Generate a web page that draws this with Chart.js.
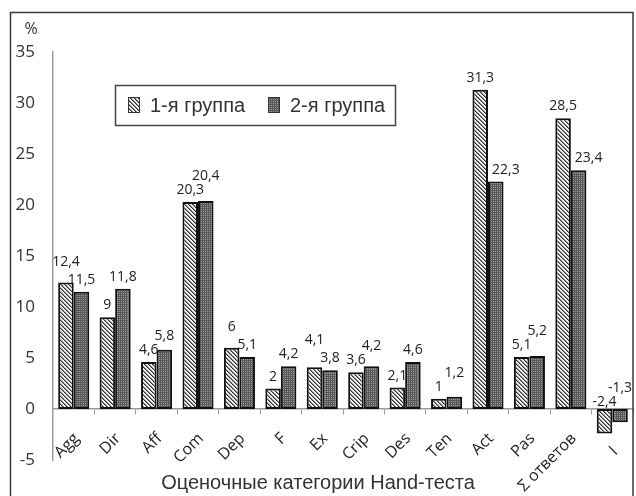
<!DOCTYPE html>
<html>
<head>
<meta charset="utf-8">
<script src="https://cdn.jsdelivr.net/npm/chart.js@4/dist/chart.umd.min.js"></script>
<style>
html,body{margin:0;padding:0;background:#fff;}
canvas{display:block;}
</style>
</head>
<body>
<canvas id="c" width="636" height="496"></canvas>
<script>
const categories = ['Agg','Dir','Aff','Com','Dep','F','Ex','Crip','Des','Ten','Act','Pas','Σ ответов','I'];
const group1 = [12.4, 9, 4.6, 20.3, 6, 2, 4.1, 3.6, 2.1, 1, 31.3, 5.1, 28.5, -2.4];
const group2 = [11.5, 11.8, 5.8, 20.4, 5.1, 4.2, 3.8, 4.2, 4.6, 1.2, 22.3, 5.2, 23.4, -1.3];
const seriesNames = ['1-я группа', '2-я группа'];
const yMin = -5, yMax = 35, yStep = 5;
const yUnit = '%';
const xTitle = 'Оценочные категории Hand-теста';

function hatchPattern() {
  const t = document.createElement('canvas'); t.width = 4; t.height = 4;
  const g = t.getContext('2d');
  g.fillStyle = '#f2f2f2'; g.fillRect(0,0,4,4);
  for (let y = 0; y < 4; y++) for (let x = 0; x < 4; x++) {
    const d = ((x - y) % 4 + 4) % 4;
    if (d === 0) { g.fillStyle = '#2e2e2e'; g.fillRect(x,y,1,1); }
    else if (d === 1) { g.fillStyle = '#8a8a8a'; g.fillRect(x,y,1,1); }
  }
  return document.getElementById('c').getContext('2d').createPattern(t, 'repeat');
}
function dotPattern() {
  const t = document.createElement('canvas'); t.width = 4; t.height = 4;
  const g = t.getContext('2d');
  g.fillStyle = '#585858'; g.fillRect(0,0,4,4);
  g.fillStyle = '#9c9c9c';
  [[1,1],[3,3],[1,3],[3,1]].forEach(p => g.fillRect(p[0],p[1],1,1));
  return document.getElementById('c').getContext('2d').createPattern(t, 'repeat');
}
const fills = [hatchPattern(), dotPattern()];
const fmt = v => String(v).replace('.', ',');

const decor = {
  id: 'decor',
  afterDraw(chart) {
    const ctx = chart.ctx;
    const xs = chart.scales.x, ys = chart.scales.y;
    const zero = ys.getPixelForValue(0);
    ctx.save();
    // outer frame
    ctx.strokeStyle = '#3a3a3a'; ctx.lineWidth = 1.5;
    ctx.strokeRect(10.5, 12.5, 622.5, 500);
    // unit label
    ctx.fillStyle = '#333';
    ctx.font = '16px "Open Sans"';
    ctx.textAlign = 'center'; ctx.textBaseline = 'middle';
    ctx.fillText(yUnit, 31, 29);
    // data labels
    ctx.font = '14px "Open Sans"';
    ctx.fillStyle = '#222';
    const m0 = chart.getDatasetMeta(0), m1 = chart.getDatasetMeta(1);
    for (let i = 0; i < categories.length; i++) {
      const bars = [m0.data[i], m1.data[i]];
      const items = bars.map((bar, k) => {
        const v = chart.data.datasets[k].data[i];
        const txt = fmt(v);
        const w = ctx.measureText(txt).width;
        const y = v >= 0 ? bar.y - 12 : zero - 7;
        return {x: bar.x, y, w, txt};
      });
      const a = items[0], b = items[1];
      // keep series-2 label clear of a much taller series-1 bar
      const b1 = bars[0];
      const b1Right = b1.x + b1.width / 2;
      if (group1[i] > 0 && b1.y < b.y - 2 && b.x - b.w / 2 < b1Right + 3) {
        b.x = b1Right + 4 + b.w / 2;
      }
      const overlap = a.x + a.w / 2 > b.x - b.w / 2 - 2;
      if (overlap && Math.abs(a.y - b.y) < 15) {
        if (a.y < b.y) a.y = b.y - 18; else b.y = a.y - 14;
      }
      items.forEach(it => ctx.fillText(it.txt, it.x, it.y));
    }
    // category labels, rotated
    ctx.font = '16px "Open Sans"';
    ctx.fillStyle = '#222';
    ctx.textAlign = 'right'; ctx.textBaseline = 'middle';
    for (let i = 0; i < categories.length; i++) {
      const cx = xs.getPixelForValue(i);
      let low = zero;
      [m0.data[i], m1.data[i]].forEach(bar => { if (bar.y > low) low = bar.y; });
      const ay = low === zero ? zero + 27 : low + 16;
      ctx.save();
      ctx.translate(cx + 3, ay);
      ctx.rotate(-Math.PI / 4);
      ctx.fillText(categories[i], 0, 0);
      ctx.restore();
    }
    // axis title
    ctx.font = '20px "Liberation Sans"';
    ctx.textAlign = 'center';
    ctx.fillStyle = '#333';
    ctx.fillText(xTitle, 318, 483);
    // legend
    ctx.fillStyle = '#fff';
    ctx.fillRect(115.5, 85.5, 280, 40);
    ctx.strokeStyle = '#444'; ctx.lineWidth = 1.5;
    ctx.strokeRect(115.5, 85.5, 280, 40);
    const lx = [128, 268];
    ctx.font = '20px "Liberation Sans"';
    ctx.textAlign = 'left'; ctx.textBaseline = 'middle';
    seriesNames.forEach((n, k) => {
      ctx.fillStyle = fills[k];
      ctx.fillRect(lx[k], 97, 12, 16);
      ctx.strokeStyle = '#333'; ctx.lineWidth = 1;
      ctx.strokeRect(lx[k] + 0.5, 97.5, 11, 15);
      ctx.fillStyle = '#333';
      ctx.fillText(n, lx[k] + 22, 106);
    });
    ctx.restore();
  }
};

new Chart(document.getElementById('c'), {
  type: 'bar',
  data: {
    labels: categories,
    datasets: [
      {label: seriesNames[0], data: group1, backgroundColor: fills[0], borderColor: '#111', borderWidth: 2, borderSkipped: false},
      {label: seriesNames[1], data: group2, backgroundColor: fills[1], borderColor: '#111', borderWidth: 2, borderSkipped: false}
    ]
  },
  options: {
    responsive: false,
    animation: false,
    devicePixelRatio: 1,
    layout: {padding: {left: 0, top: 52, right: 3, bottom: 36}},
    datasets: {bar: {categoryPercentage: 0.75, barPercentage: 1.0}},
    plugins: {legend: {display: false}, tooltip: {enabled: false}, title: {display: false}},
    scales: {
      x: {
        position: {y: 0},
        grid: {display: true, drawOnChartArea: false, drawTicks: true, tickLength: 5, color: '#9a9a9a', offset: true},
        border: {display: true, color: '#9a9a9a', width: 1.5},
        ticks: {display: false},
        afterFit: s => { s.height = 0; }
      },
      y: {
        min: yMin, max: yMax,
        grid: {display: false},
        border: {display: true, color: '#9a9a9a', width: 1.5},
        ticks: {stepSize: yStep, color: '#333', font: {family: 'Open Sans', size: 17}, padding: 10},
        afterFit: s => { s.width = 53; }
      }
    }
  },
  plugins: [decor]
});
</script>
</body>
</html>
